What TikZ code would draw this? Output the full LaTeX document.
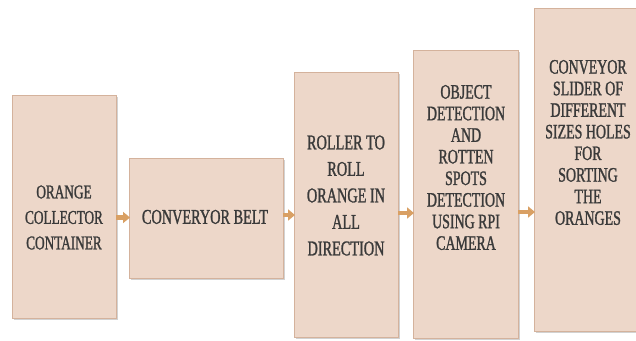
\documentclass[tikz,border=0pt]{standalone}
\usepackage{fontspec}
\setmainfont{Liberation Serif}[FakeStretch=0.68,FakeBold=1.2]
\usetikzlibrary{arrows.meta,shadows}
\definecolor{boxfill}{HTML}{EDD7C9}
\definecolor{boxline}{HTML}{D4B29C}
\definecolor{arrowc}{HTML}{D9A064}
\definecolor{txtc}{HTML}{3A3A3A}
\tikzset{
  stagebox/.style={draw=boxline, line width=1pt, fill=boxfill, rectangle, inner sep=0pt,
    anchor=north west, drop shadow={shadow xshift=1pt, shadow yshift=-1.5pt, opacity=0.35}},
  stagetxt/.style={text=txtc, align=center, inner sep=0pt},
  flowarrow/.style={draw=arrowc, line width=4.5pt, -{Triangle[width=11pt,length=7pt]}, shorten <=-1pt, shorten >=-1pt}
}
\begin{document}
\begin{tikzpicture}[x=1pt,y=-1pt]
\useasboundingbox (0,0) rectangle (636,340);
\fill[white] (0,0) rectangle (636,340);
\node[stagebox, minimum width=104pt, minimum height=223pt] (b1) at (12,95) {};
\node[stagebox, minimum width=154pt, minimum height=120pt] (b2) at (129,158) {};
\node[stagebox, minimum width=104pt, minimum height=265pt] (b3) at (294,72) {};
\node[stagebox, minimum width=105pt, minimum height=288pt] (b4) at (413,50) {};
\node[stagebox, minimum width=110pt, minimum height=323pt] (b5) at (534,8) {};

\node[stagetxt, font=\fontsize{19.5}{25.5}\selectfont] (t1) at (64,217.5) {ORANGE\\COLLECTOR\\CONTAINER};
\node[stagetxt, font=\fontsize{21}{24}\selectfont] (t2) at (205,217) {CONVERYOR BELT};
\node[stagetxt, font=\fontsize{21}{26.5}\selectfont] (t3) at (346,195.5) {ROLLER TO\\ROLL\\ORANGE IN\\ALL\\DIRECTION};
\node[stagetxt, font=\fontsize{20.5}{21.6}\selectfont] (t4) at (466,167.5) {OBJECT\\DETECTION\\AND\\ROTTEN\\SPOTS\\DETECTION\\USING RPI\\CAMERA};
\node[stagetxt, font=\fontsize{20.5}{21.6}\selectfont] (t5) at (588,142.5) {CONVEYOR\\SLIDER OF\\DIFFERENT\\SIZES HOLES\\FOR\\SORTING\\THE\\ORANGES};

\coordinate (a1) at (0,217.5);
\coordinate (a2) at (0,215);
\coordinate (a3) at (0,213);
\coordinate (a4) at (0,212);
\draw[flowarrow] (b1.east |- a1) -- (b2.west |- a1);
\draw[flowarrow] (b2.east |- a2) -- (b3.west |- a2);
\draw[flowarrow] (b3.east |- a3) -- (b4.west |- a3);
\draw[flowarrow] (b4.east |- a4) -- (b5.west |- a4);
\end{tikzpicture}
\end{document}
